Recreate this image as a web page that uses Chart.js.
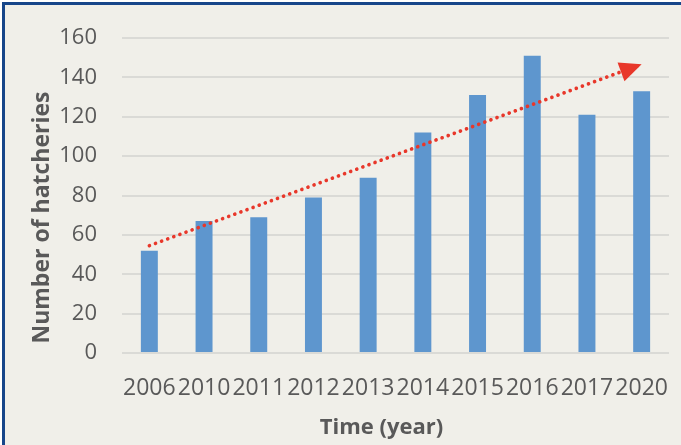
<!DOCTYPE html>
<html>
<head>
<meta charset="utf-8">
<script src="https://cdn.jsdelivr.net/npm/chart.js@4.4.1/dist/chart.umd.min.js"></script>
<style>
  body { margin: 0; background: #fff; overflow: hidden; }
  #frame {
    position: absolute; left: 2px; top: 2px;
    width: 700px; height: 440px;
    border: 3px solid #17468a;
    background: #f0efe9;
  }
  #chart { position: absolute; left: 0; top: 0; }
</style>
</head>
<body>
<div id="frame"><canvas id="chart" width="676" height="439"></canvas></div>
<script>
const years = ['2006', '2010', '2011', '2012', '2013', '2014', '2015', '2016', '2017', '2020'];
const hatcheries = [52, 67, 69, 79, 89, 112, 131, 151, 121, 133];
// trend arrow: start and end only, the gap is bridged
const trend = [54.5, null, null, null, null, null, null, null, null, 146.7];
const yTicks = [0, 20, 40, 60, 80, 100, 120, 140, 160];
const xTitle = 'Time (year)';
const yTitle = 'Number of hatcheries';

const textColor = '#595959';
const fontFamily = '"Open Sans", sans-serif';
const clear = 'rgba(0,0,0,0)';

const arrowHead = {
  id: 'arrowHead',
  afterDatasetsDraw(chart) {
    const meta = chart.getDatasetMeta(1);
    const pts = meta.data.filter((p, i) => trend[i] !== null);
    const a = pts[0], b = pts[pts.length - 1];
    const ang = Math.atan2(b.y - a.y, b.x - a.x);
    const len = 22, half = 10;
    const ctx = chart.ctx;
    ctx.save();
    ctx.translate(b.x, b.y);
    ctx.rotate(ang);
    ctx.beginPath();
    ctx.moveTo(0, 0);
    ctx.lineTo(-len, -half);
    ctx.lineTo(-len, half);
    ctx.closePath();
    ctx.fillStyle = '#e8372a';
    ctx.fill();
    ctx.restore();
  }
};

// axis titles sit a bit off-centre in the original, so draw them by hand
const axisTitles = {
  id: 'axisTitles',
  afterDraw(chart) {
    const { ctx, chartArea } = chart;
    ctx.save();
    ctx.fillStyle = textColor;
    ctx.textAlign = 'center';
    ctx.textBaseline = 'middle';
    ctx.font = 'bold 22px ' + fontFamily;
    ctx.fillText(xTitle, (chartArea.left + chartArea.right) / 2 - 14, 423);
    ctx.translate(37, (chartArea.top + chartArea.bottom) / 2 + 22);
    ctx.rotate(-Math.PI / 2);
    ctx.font = 'bold 23px ' + fontFamily;
    ctx.fillText(yTitle, 0, 0);
    ctx.restore();
  }
};

new Chart(document.getElementById('chart'), {
  type: 'bar',
  data: {
    labels: years,
    datasets: [
      {
        label: 'Hatcheries',
        data: hatcheries,
        backgroundColor: '#5e96ce',
        categoryPercentage: 1,
        barPercentage: 0.31,
        order: 2
      },
      {
        type: 'line',
        label: 'Trend',
        data: trend,
        spanGaps: true,
        borderColor: '#e8372a',
        borderWidth: 3.6,
        borderDash: [0.1, 6.4],
        borderCapStyle: 'round',
        pointRadius: 0,
        fill: false,
        order: 1
      }
    ]
  },
  options: {
    responsive: false,
    animation: false,
    layout: { padding: { left: 0, right: 12, top: 33, bottom: 0 } },
    plugins: {
      legend: { display: false },
      tooltip: { enabled: false }
    },
    scales: {
      x: {
        // invisible tick marks give the gap under the axis
        grid: { color: clear, tickColor: clear, drawOnChartArea: false, tickLength: 22 },
        border: { display: false },
        ticks: {
          color: textColor,
          font: { family: fontFamily, size: 23 },
          padding: 0,
          maxRotation: 0,
          autoSkip: false
        },
        afterFit(scale) { scale.height = 91; }
      },
      y: {
        min: 0,
        max: 160,
        afterBuildTicks(scale) { scale.ticks = yTicks.map(v => ({ value: v })); },
        grid: { color: '#dadad6', lineWidth: 2, tickColor: clear, tickLength: 25 },
        border: { display: false },
        ticks: {
          color: textColor,
          font: { family: fontFamily, size: 22 },
          padding: 0
        },
        afterFit(scale) { scale.width = 117; }
      }
    }
  },
  plugins: [arrowHead, axisTitles]
});
</script>
</body>
</html>
